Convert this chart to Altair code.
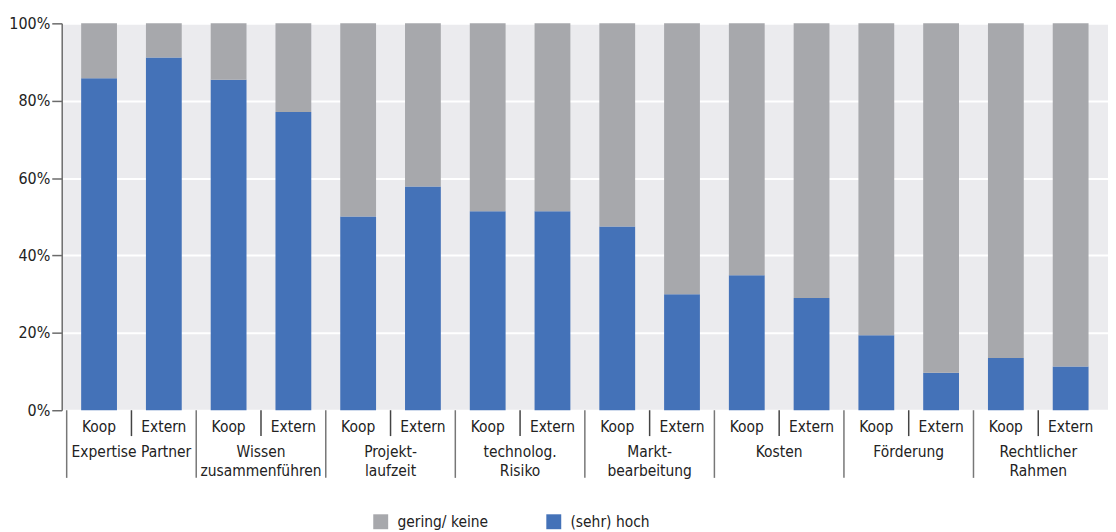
import altair as alt
import pandas as pd

# ---- data ----
groups = ["Expertise Partner", "Wissen\nzusammenführen", "Projekt-\nlaufzeit",
          "technolog.\nRisiko", "Markt-\nbearbeitung", "Kosten", "Förderung",
          "Rechtlicher\nRahmen"]
kinds = ["Koop", "Extern"]
hoch = [85.8, 91.2, 85.4, 77.1, 50.1, 57.8, 51.4, 51.4,
        47.5, 30.0, 34.9, 29.0, 19.4, 9.7, 13.5, 11.3]
gering = [14.2, 8.8, 14.6, 22.9, 49.9, 42.2, 48.6, 48.6,
          52.5, 70.0, 65.1, 71.0, 80.6, 90.3, 86.5, 88.7]
series = ["gering/ keine", "(sehr) hoch"]
y_ticks = [0, 20, 40, 60, 80, 100]

FONT = "DejaVu Sans Condensed, sans-serif"
FS = 15.5
BLUE = "#4472B8"
GRAY = "#A7A8AC"
BG = "#EBEBEE"
W, H = 1052, 389
N = len(hoch)

rows = []
labels = []
for i in range(N):
    pos = i + 0.5
    rows.append({"pos": pos, "series": series[1], "value": hoch[i], "ord": 0})
    rows.append({"pos": pos, "series": series[0], "value": gering[i], "ord": 1})
    labels.append({"pos": pos, "kind": kinds[i % 2]})
bars_df = pd.DataFrame(rows)
kind_df = pd.DataFrame(labels)
group_df = pd.DataFrame({"center": [2 * g + 1 for g in range(len(groups))], "label": groups})
short_df = pd.DataFrame({"p": [2 * g + 1 for g in range(len(groups))]})
long_df = pd.DataFrame({"p": [2 * g for g in range(len(groups))]})

xscale = alt.Scale(domain=[0, N], nice=False, zero=False)

bars = alt.Chart(bars_df).mark_bar(size=36).encode(
    x=alt.X("pos:Q", scale=xscale,
            axis=alt.Axis(labels=False, ticks=False, grid=False, title=None,
                          domainColor="#333333", domainWidth=1.5)),
    y=alt.Y("value:Q", stack="zero", scale=alt.Scale(domain=[0, 100], nice=False),
            axis=alt.Axis(values=y_ticks, labelExpr="datum.value + '%'", title=None,
                          domainColor="#6b6b6b", domainWidth=1.5, tickColor="#6b6b6b",
                          tickWidth=1.5, tickSize=10, labelPadding=2, labelFontSize=16,
                          labelFont=FONT, labelColor="#222222", gridColor="#ffffff",
                          gridWidth=2)),
    color=alt.Color("series:N", scale=alt.Scale(domain=series, range=[GRAY, BLUE]),
                    legend=alt.Legend(title=None, orient="none", legendX=313, legendY=493,
                                      direction="horizontal", symbolType="square",
                                      symbolSize=225, symbolStrokeWidth=0,
                                      labelFontSize=FS, labelFont=FONT,
                                      labelColor="#222222", labelOffset=9,
                                      columnPadding=58)),
    order=alt.Order("ord:Q"),
)

kind_text = alt.Chart(kind_df).mark_text(
    baseline="alphabetic", fontSize=FS, font=FONT, color="#222222"
).encode(
    x=alt.X("pos:Q", scale=xscale, axis=None),
    y=alt.value(H + 22),
    text="kind:N",
)

group_text = alt.Chart(group_df).mark_text(
    baseline="alphabetic", fontSize=FS, font=FONT, color="#222222",
    lineBreak="\n", lineHeight=19
).encode(
    x=alt.X("center:Q", scale=xscale, axis=None),
    y=alt.value(H + 47),
    text="label:N",
)

short_rules = alt.Chart(short_df).mark_rule(color="#444444", strokeWidth=1.5).encode(
    x=alt.X("p:Q", scale=xscale, axis=None),
    y=alt.value(H),
    y2=alt.value(H + 26),
)

long_rules = alt.Chart(long_df).mark_rule(color="#777777", strokeWidth=1.5).encode(
    x=alt.X("p:Q", scale=xscale, axis=None),
    y=alt.value(H),
    y2=alt.value(H + 68),
)

chart = alt.layer(bars, short_rules, long_rules, kind_text, group_text).properties(
    width=W, height=H,
    padding={"left": 0, "top": 6, "right": 0, "bottom": 0},
).configure_view(fill=BG, stroke="transparent")

chart.save("out.html", embed_options={"renderer": "svg", "actions": False})
